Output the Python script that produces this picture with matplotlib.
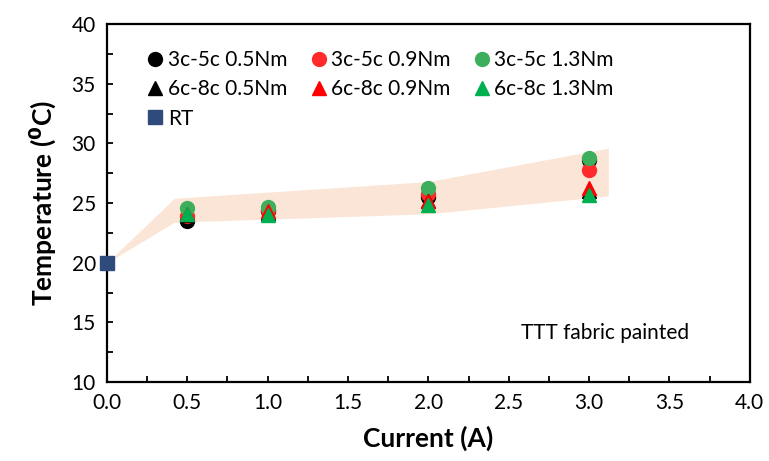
import numpy as np
import matplotlib.pyplot as plt
from matplotlib.ticker import MultipleLocator

plt.rcParams['font.family'] = ['Lato', 'DejaVu Sans']

current = [0.5, 1.0, 2.0, 3.0]

# surface temperature (deg C) per sample / torque
t_3c5c_05 = [23.5, 24.3, 25.5, 28.6]
t_3c5c_09 = [23.9, 24.4, 25.8, 27.8]
t_3c5c_13 = [24.6, 24.7, 26.3, 28.8]
t_6c8c_05 = [24.0, 24.2, 25.2, 26.0]
t_6c8c_09 = [24.1, 24.3, 25.2, 26.3]
t_6c8c_13 = [24.1, 24.0, 24.8, 25.7]

rt_current = [0.0]
rt_temp = [20.0]

# shaded range
band_x = [0.0, 0.42, 2.0, 3.12]
band_hi = [20.0, 25.4, 26.8, 29.6]
band_lo = [20.0, 23.4, 24.1, 25.6]

fig = plt.figure(figsize=(7.69, 4.61), dpi=100)
ax = fig.add_axes([0.139, 0.171, 0.836, 0.777])

ax.fill_between(band_x, band_lo, band_hi, color='#FBE5D6', lw=0, zorder=1)

green = '#3DAF5C'
red = '#FF2A2A'
ms = 10
ax.plot(current, t_3c5c_05, 'o', color='black', ms=ms, label='3c-5c 0.5Nm', zorder=3)
ax.plot(current, t_3c5c_09, 'o', color=red, ms=ms, label='3c-5c 0.9Nm', zorder=3)
ax.plot(current, t_3c5c_13, 'o', color=green, ms=ms, label='3c-5c 1.3Nm', zorder=3)
ax.plot(current, t_6c8c_05, '^', color='black', ms=ms, label='6c-8c 0.5Nm', zorder=3)
ax.plot(current, t_6c8c_09, '^', color='#FF0000', ms=ms, label='6c-8c 0.9Nm', zorder=3)
ax.plot(current, t_6c8c_13, '^', color='#00B050', ms=ms, label='6c-8c 1.3Nm', zorder=3)
ax.plot(rt_current, rt_temp, 's', color='#2F4B7C', ms=ms, label='RT', zorder=4,
        clip_on=False)

h, l = ax.get_legend_handles_labels()
order = [0, 3, 6, 1, 4, 2, 5]
ax.legend([h[i] for i in order], [l[i] for i in order], ncol=3, frameon=False,
          loc='upper left', bbox_to_anchor=(0.03, 0.98), fontsize=15,
          handletextpad=0.1, handlelength=1.0, columnspacing=1.0,
          labelspacing=0.45, markerscale=1.0)

ax.text(3.1, 14.1, 'TTT fabric painted', fontsize=15, ha='center', va='center')

ax.set_xlim(0, 4)
ax.set_ylim(10, 40)
ax.xaxis.set_major_locator(MultipleLocator(0.5))
ax.xaxis.set_minor_locator(MultipleLocator(0.25))
ax.yaxis.set_major_locator(MultipleLocator(5))
ax.yaxis.set_minor_locator(MultipleLocator(2.5))
ax.xaxis.set_major_formatter(lambda v, p: f'{v:.1f}')
ax.tick_params(which='both', direction='in', length=4, width=1.3, labelsize=15, pad=8)
for s in ax.spines.values():
    s.set_linewidth(1.6)

ax.set_xlabel('Current (A)', fontsize=19, fontweight='bold', labelpad=9)
ax.set_ylabel(r'Temperature ($\mathbf{^0}$C)', fontsize=19, fontweight='bold', labelpad=10)

fig.savefig('out.png', dpi=100)
